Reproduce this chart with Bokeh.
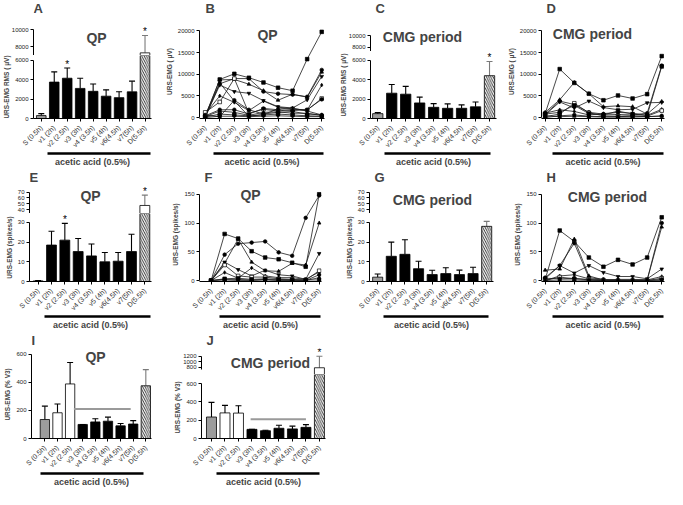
import math
from bokeh.plotting import figure
from bokeh.models import (Range1d, LinearAxis, FixedTicker, Label, Whisker,
                          TeeHead, ColumnDataSource)
from bokeh.layouts import row, column
from bokeh.embed import file_html
from bokeh.resources import INLINE
from bokeh.core.properties import value

FONT = "Liberation Sans"

# ---------------- data ----------------
categories = ["S (0.5h)", "v1 (2h)", "v2 (2.5h)", "v3 (3h)", "v4 (3.5h)",
              "v5 (4h)", "v6(4.5h)", "v7(5h)", "D(5.5h)"]
x_idx = list(range(len(categories)))

# A: QP, URS-EMG RMS (uV), mean and SEM
A_mean = [300, 3750, 4150, 3100, 2800, 2300, 2150, 2750, 7300]
A_sem = [200, 1050, 1050, 1050, 750, 650, 600, 1100, 2000]
A_stars = [2, 8]
# C: CMG period, URS-EMG RMS (uV)
C_mean = [500, 2600, 2500, 1600, 1150, 1050, 1050, 1200, 4400]
C_sem = [100, 900, 800, 600, 380, 450, 350, 500, 1450]
C_stars = [8]
# E: QP, spikes/s
E_mean = [0.3, 18.5, 21.0, 15.2, 13.0, 10.0, 10.3, 15.2, 47.0]
E_sem = [0.2, 7.0, 8.5, 6.6, 6.0, 4.7, 4.4, 8.8, 18.0]
E_stars = [2, 8]
# G: CMG period, spikes/s
G_mean = [2.2, 12.8, 13.8, 6.5, 3.5, 4.0, 3.5, 4.0, 28.0]
G_sem = [1.6, 7.2, 7.4, 3.8, 2.2, 3.0, 2.3, 3.2, 2.5]
G_stars = []
# I: QP, % V3
I_mean = [135, 183, 388, 100, 118, 123, 90, 103, 375]
I_sem = [95, 62, 152, 0, 22, 29, 17, 24, 115]
I_stars = []
# J: CMG period, % V3
J_mean = [235, 280, 278, 100, 85, 112, 105, 122, 780]
J_sem = [160, 82, 80, 0, 5, 33, 30, 30, 420]
J_stars = [8]
# comparison bracket (v3..v7) in I and J
I_bracket = (2.3, 6.8, 210)
J_bracket = (2.9, 7.0, 210)

# B: QP individual traces (uV)
B_traces = [
    [300, 8800, 10100, 9200, 8100, 6900, 6200, 13500, 19800],
    [500, 7800, 9000, 9000, 6000, 5500, 5300, 4800, 11000],
    [200, 8700, 8800, 7700, 6200, 4000, 5400, 4700, 10500],
    [100, 7500, 6000, 5600, 3900, 2500, 2200, 4100, 9500],
    [800, 5000, 3500, 1600, 3800, 2400, 2000, 1700, 7500],
    [1200, 3600, 9000, 1000, 1900, 1500, 1900, 1700, 4400],
    [400, 1800, 1800, 800, 2100, 1800, 1600, 1800, 4200],
    [200, 1500, 1200, 500, 1200, 1300, 1000, 1000, 500],
    [100, 800, 600, 400, 600, 800, 600, 400, 300],
    [0, 300, 300, 200, 300, 400, 300, 200, 200],
    [600, 200, 4000, 1800, 800, 1200, 1400, 800, 600],
    [0, 8000, 3800, 300, 700, 2000, 2200, 1500, 600],
]
# D: CMG period individual traces (uV)
D_traces = [
    [900, 11200, 8000, 5500, 4000, 5100, 4400, 5400, 14200],
    [800, 3800, 3000, 1200, 800, 700, 600, 1000, 12000],
    [1200, 4100, 8100, 5500, 2500, 2700, 2500, 800, 3700],
    [600, 3600, 2200, 3800, 2300, 1800, 1900, 3400, 3500],
    [1000, 1800, 1400, 600, 900, 1200, 1000, 500, 1900],
    [200, 800, 3300, 1100, 400, 300, 400, 300, 1600],
    [0, 400, 600, 300, 200, 200, 300, 200, 400],
    [400, 200, 300, 200, 100, 100, 100, 200, 300],
    [800, 1200, 2800, 900, 600, 1500, 800, 500, 11800],
]
# F: QP individual traces (spikes/s)
F_traces = [
    [0, 81, 73, 51, 40, 37, 31, 24, 150],
    [0, 45, 64, 66, 68, 49, 43, 109, 148],
    [0, 30, 72, 32, 17, 16, 30, 27, 100],
    [0, 32, 19, 8, 18, 10, 8, 2, 47],
    [0, 14, 4, 22, 8, 5, 5, 2, 15],
    [0, 27, 8, 6, 6, 3, 2, 1, 17],
    [0, 2, 2, 1, 2, 1, 1, 0, 10],
    [0, 1, 0, 0, 1, 0, 0, 0, 5],
    [0, 3, 4, 2, 3, 2, 1, 1, 1],
]
# H: CMG period individual traces (spikes/s)
H_traces = [
    [2, 87, 68, 40, 24, 36, 28, 40, 110],
    [5, 26, 65, 5, 2, 0, 0, 1, 100],
    [18, 20, 72, 8, 1, 1, 1, 1, 93],
    [3, 26, 13, 26, 14, 7, 7, 3, 20],
    [0, 8, 10, 3, 1, 2, 2, 1, 7],
    [0, 6, 3, 2, 0, 0, 0, 0, 4],
    [4, 3, 4, 1, 0, 0, 0, 0, 2],
    [0, 1, 1, 0, 0, 0, 0, 0, 0],
]

MARKERS = ["square", "circle", "triangle", "inverted_triangle", "diamond",
           "square", "circle", "triangle", "square", "inverted_triangle",
           "circle", "diamond"]


# ---------------- helpers ----------------
def yr_from(va, pa, vb, pb, top_px, bot_px):
    k = (vb - va) / (pb - pa)
    return (va + (bot_px - pa) * k, va + (top_px - pa) * k)


def base_fig(w, h, left, right, top, bottom, xr, yr):
    p = figure(width=w, height=h, x_range=Range1d(*xr), y_range=Range1d(*yr),
               x_axis_type=None, y_axis_type=None, output_backend="svg",
               toolbar_location=None, min_border_left=left,
               min_border_right=right, min_border_top=top,
               min_border_bottom=bottom)
    p.outline_line_color = None
    p.background_fill_color = "white"
    p.border_fill_color = "white"
    return p


def header(w, h, txt, lx, ly):
    p = base_fig(w, h, 0, 0, 0, 0, (0, 1), (0, 1))
    p.add_layout(Label(x=lx, y=h - ly, x_units="screen", y_units="screen",
                       text=txt, text_font=FONT, text_font_size="13px",
                       text_font_style="bold", text_align="left",
                       text_baseline="top"))
    return p


def style_axis(ax):
    ax.axis_line_color = "black"
    ax.axis_line_width = 1
    ax.major_tick_line_color = "black"
    ax.major_tick_out = 3
    ax.major_tick_in = 0
    ax.minor_tick_line_color = None
    ax.major_label_text_font = FONT
    ax.major_label_text_font_size = "6px"
    ax.major_label_text_color = "#222222"
    ax.major_label_standoff = 2
    ax.axis_label_text_font = FONT
    ax.axis_label_text_font_style = "bold"
    ax.axis_label_text_font_size = "6.5px"
    ax.axis_label_standoff = 2


def add_y(p, ticks, bounds, label=None):
    ax = LinearAxis(ticker=FixedTicker(ticks=ticks), bounds=bounds)
    style_axis(ax)
    if label:
        ax.axis_label = label
    p.add_layout(ax, "left")


def add_x(p, line_b):
    ax = LinearAxis(ticker=FixedTicker(ticks=x_idx),
                    major_label_overrides={i: c for i, c in enumerate(categories)},
                    major_label_orientation=math.pi / 4)
    style_axis(ax)
    ax.major_label_text_font_size = "7px"
    ax.major_label_text_color = "#333333"
    ax.major_label_standoff = 5
    p.add_layout(ax, "below")
    ax2 = LinearAxis(ticker=FixedTicker(ticks=[]), bounds=line_b)
    ax2.axis_line_width = 2.6
    ax2.axis_line_color = "black"
    ax2.major_tick_out = 0
    ax2.major_tick_in = 0
    ax2.minor_tick_out = 0
    ax2.major_label_standoff = 0
    ax2.major_label_text_font_size = "0px"
    ax2.axis_label = "acetic acid (0.5%)"
    ax2.axis_label_text_font = FONT
    ax2.axis_label_text_font_style = "bold"
    ax2.axis_label_text_font_size = "9px"
    ax2.axis_label_standoff = 3
    p.add_layout(ax2, "below")


def add_title(p, txt, dx, dy, fh):
    p.add_layout(Label(x=dx, y=fh - dy, x_units="screen", y_units="screen",
                       text=txt, text_font=FONT, text_font_size="14px",
                       text_font_style="bold", text_align="center",
                       text_baseline="middle"))


def whiskers(p, idx, mean, sem, color):
    if not idx:
        return
    src = ColumnDataSource(dict(base=[x_idx[i] for i in idx],
                                lower=[mean[i] for i in idx],
                                upper=[mean[i] + sem[i] for i in idx]))
    p.add_layout(Whisker(source=src, base="base", lower="lower", upper="upper",
                         dimension="height", line_color=color, line_width=1.1,
                         upper_head=TeeHead(size=6, line_color=color, line_width=1.1),
                         lower_head=None))


def bar_panel(letter, title, tdx, tdy, ylabel, mean, sem, stars, white_n,
              w, left, right, xr, line_b, segs, row_h, lx, ly, bracket=None):
    figs = [header(w, segs[0]["top"], letter, lx, ly)]
    n = len(segs)
    last_i = len(mean) - 1
    for si, sg in enumerate(segs):
        first = si == 0
        last = si == n - 1
        canvas_top = sg["top"]
        canvas_bot = row_h if last else sg["bot"]
        bot_b = canvas_bot - sg["bot"]
        fh = sg["bot"] - sg["top"]
        yr = yr_from(*sg["map"], sg["top"], sg["bot"])
        p = base_fig(w, canvas_bot - canvas_top, left, right, 0, bot_b, xr, yr)
        lo_b = 0 if last else sg.get("lo", yr[0])
        add_y(p, sg["ticks"], (lo_b, sg["hi"]), ylabel if last else None)
        if last:
            add_x(p, line_b)
            fills, hatches = [], []
            for i in x_idx:
                if i == 0:
                    fills.append("#9c9c9c"); hatches.append(" ")
                elif i == last_i:
                    fills.append("white"); hatches.append("\\")
                elif i < white_n:
                    fills.append("white"); hatches.append(" ")
                else:
                    fills.append("black"); hatches.append(" ")
            src = ColumnDataSource(dict(x=x_idx, top=mean, fill=fills, hatch=hatches))
            p.vbar(x="x", top="top", bottom=0, width=0.74, source=src,
                   fill_color="fill", line_color="black", line_width=0.8,
                   hatch_pattern="hatch", hatch_color="black", hatch_scale=4.5,
                   hatch_weight=0.8)
            in_seg = [i for i in x_idx if mean[i] <= yr[1]]
        else:
            up = [i for i in x_idx if mean[i] > yr[0]]
            if up:
                p.vbar(x=[x_idx[i] for i in up], top=[mean[i] for i in up],
                       bottom=yr[0], width=0.74, fill_color="white",
                       line_color="black", line_width=0.8)
            in_seg = [i for i in x_idx if yr[0] < mean[i] <= yr[1]]
        whiskers(p, [i for i in in_seg if i != last_i], mean, sem, "black")
        whiskers(p, [i for i in in_seg if i == last_i], mean, sem, "#7a7a7a")
        st = [i for i in stars
              if (mean[i] + sem[i] <= yr[1]) and (last or mean[i] + sem[i] > yr[0])]
        if st:
            p.text(x=[x_idx[i] for i in st], y=[mean[i] + sem[i] for i in st],
                   text=["*"] * len(st), text_font=value(FONT),
                   text_font_size="10px", text_align="center",
                   text_baseline="middle", y_offset=-4, text_color="black")
        if bracket is not None and last:
            p.segment(x0=[bracket[0]], y0=[bracket[2]], x1=[bracket[1]],
                      y1=[bracket[2]], line_color="#9a9a9a", line_width=2)
        if first:
            add_title(p, title, tdx, tdy, fh)
        figs.append(p)
    return column(*figs)


def line_panel(letter, title, tdx, tdy, ylabel, traces, ticks, w, left, right,
               xr, line_b, top, bot, mp, row_h, lx, ly):
    yr = yr_from(*mp, top, bot)
    fh = bot - top
    p = base_fig(w, row_h - top, left, right, 0, row_h - bot, xr, yr)
    add_y(p, ticks, (0, ticks[-1]), ylabel)
    add_x(p, line_b)
    for k, tr in enumerate(traces):
        p.line(x_idx, tr, line_color="#1a1a1a", line_width=0.8)
        hollow = (k == 5)
        p.scatter(x_idx, tr, marker=MARKERS[k % len(MARKERS)], size=3.6,
                  fill_color="white" if hollow else "black",
                  line_color="black", line_width=0.7)
    add_title(p, title, tdx, tdy, fh)
    return column(header(w, top, letter, lx, ly), p)


# ---------------- panels ----------------
RMS = "URS-EMG RMS ( \u03bcV)"
UV = "URS-EMG ( \u03bcV)"
SPK = "URS-EMG (spikes/s)"
PCT = "URS-EMG  (% V3)"
uv_ticks = [0, 5000, 10000, 15000, 20000]
spk_ticks = [0, 50, 100, 150]

R1, R2, R3 = 169, 163, 157

segs_A = [dict(top=21, bot=55, map=(10000, 29, 8000, 46.3), ticks=[8000, 10000], hi=10000),
          dict(top=55, bot=121, map=(0, 121, 6000, 60), ticks=[0, 2000, 4000, 6000], hi=6000)]
segs_C = [dict(top=25, bot=51, map=(10000, 35, 8000, 46.7), ticks=[8000, 10000], hi=10000),
          dict(top=51, bot=121, map=(0, 121, 6000, 60), ticks=[0, 2000, 4000, 6000], hi=6000)]
segs_E = [dict(top=16, bot=44, map=(70, 22.7, 40, 40), ticks=[40, 50, 60, 70], hi=70),
          dict(top=44, bot=115, map=(0, 115, 30, 53.3), ticks=[0, 10, 20, 30], hi=30)]
segs_I = [dict(top=16, bot=112, map=(0, 112, 600, 22), ticks=[0, 200, 400, 600], hi=600)]
segs_J = [dict(top=16, bot=42, map=(1200, 23.7, 800, 34.7), ticks=[800, 1000, 1200], hi=1200, lo=716),
          dict(top=42, bot=112, map=(0, 112, 600, 52), ticks=[0, 200, 400, 600], hi=600)]

pA = bar_panel("A", "QP", 63, 16, RMS, A_mean, A_sem, A_stars, 1, 162, 29, 11,
               (-0.6, 8.5), (0.5, 8.45), segs_A, R1, 0, 0)
pB = line_panel("B", "QP", 68, 13, UV, B_traces, uv_ticks, 170, 37, 8,
                (-0.39, 8.19), (0.6, 8.1), 24, 121, (0, 120, 20000, 30.7), R1, 6, 0)
pC = bar_panel("C", "CMG period", 52, 11, RMS, C_mean, C_sem, C_stars, 1, 170, 38, 6,
               (-0.52, 8.5), (0.45, 8.1), segs_C, R1, 5, 0)
pD = line_panel("D", "CMG period", 51, 12, UV, D_traces, uv_ticks, 165, 39, 3,
                (-0.25, 8.19), (0.5, 8.1), 24, 121, (0, 120, 20000, 30.7), R1, 5, 0)

pE = bar_panel("E", "QP", 61, 10, SPK, E_mean, E_sem, E_stars, 1, 162, 29, 11,
               (-0.65, 8.5), (0.5, 8.45), segs_E, R2, 0, 0)
pF = line_panel("F", "QP", 51, 10, SPK, F_traces, spk_ticks, 170, 37, 11,
                (-0.86, 8.17), (0.6, 8.1), 18, 115, (0, 114, 150, 25), R2, 5, 0)
pG = bar_panel("G", "CMG period", 63, 14, SPK, G_mean, G_sem, G_stars, 1, 170, 37, 9,
               (-0.6, 8.5), (0.45, 8.1), segs_E, R2, 5, 0)
pH = line_panel("H", "CMG period", 66, 12, SPK, H_traces, spk_ticks, 165, 39, 3,
                (-0.25, 8.19), (0.5, 8.1), 18, 115, (0, 114, 150, 25), R2, 5, 0)

pI = bar_panel("I", "QP", 64, 14, PCT, I_mean, I_sem, I_stars, 3, 162, 31, 11,
               (-1.06, 8.45), (-0.35, 7.8), segs_I, R3, 0, 0, bracket=I_bracket)
pJ = bar_panel("J", "CMG period", 69, 14, PCT, J_mean, J_sem, J_stars, 3, 170, 39, 7,
               (-0.74, 8.45), (0.38, 8.0), segs_J, R3, 5, 0, bracket=J_bracket)

layout = column(row(pA, pB, pC, pD), row(pE, pF, pG, pH), row(pI, pJ))

open("out.html", "w").write(file_html(layout, INLINE))
